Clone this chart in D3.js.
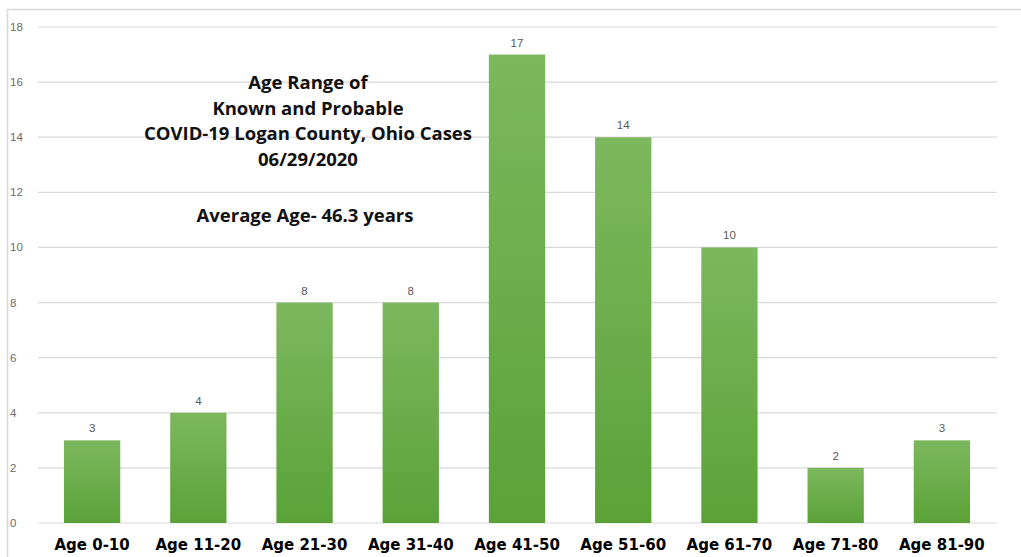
<!DOCTYPE html>
<html>
<head>
<meta charset="utf-8">
<script src="https://cdn.jsdelivr.net/npm/d3@7"></script>
<style>
  body { margin: 0; background: #fff; }
  svg { display: block; }
</style>
</head>
<body>
<div id="chart"></div>
<script>
const categories = ['Age 0-10', 'Age 11-20', 'Age 21-30', 'Age 31-40', 'Age 41-50',
                    'Age 51-60', 'Age 61-70', 'Age 71-80', 'Age 81-90'];
const cases = [3, 4, 8, 8, 17, 14, 10, 2, 3];
const yTicks = [0, 2, 4, 6, 8, 10, 12, 14, 16, 18];
const titleLines = ['Age Range of', 'Known and Probable', 'COVID-19 Logan County, Ohio Cases', '06/29/2020'];
const subtitle = 'Average Age- 46.3 years';

const width = 1021;
const height = 557;

const svg = d3.select('#chart')
    .append('svg')
        .attr('width', width)
        .attr('height', height);

const defs = svg.append('defs');
const grad = defs.append('linearGradient')
    .attr('id', 'barGrad')
    .attr('x1', 0).attr('y1', 0).attr('x2', 0).attr('y2', 1);
grad.append('stop').attr('offset', '0%').attr('stop-color', '#7cb85e');
grad.append('stop').attr('offset', '100%').attr('stop-color', '#5aa238');

// outer frame
svg.append('rect')
    .attr('x', 7.5).attr('y', 9.5)
    .attr('width', 1030).attr('height', 560)
    .attr('fill', 'none')
    .attr('stroke', '#d9d9d9')
    .attr('stroke-width', 1.5);

const x = d3.scaleBand()
    .domain(categories)
    .range([39, 995])
    .paddingInner(0.47)
    .paddingOuter(0.235);

const y = d3.scaleLinear()
    .domain([0, 18])
    .range([523, 27]);

// gridlines
svg.append('g')
    .selectAll('line')
    .data(yTicks)
    .join('line')
        .attr('x1', 38)
        .attr('x2', 997)
        .attr('y1', d => y(d))
        .attr('y2', d => y(d))
        .attr('stroke', '#d9d9d9')
        .attr('stroke-width', 1.2);

// y tick labels
svg.append('g')
    .selectAll('text')
    .data(yTicks)
    .join('text')
        .attr('x', 10)
        .attr('y', d => y(d) + 4)
        .attr('font-family', 'Liberation Sans, Arial, sans-serif')
        .attr('font-size', 11.5)
        .attr('fill', '#6b6b6b')
        .text(d => d);

// bars
svg.append('g')
    .selectAll('rect')
    .data(cases)
    .join('rect')
        .attr('x', (d, i) => x(categories[i]))
        .attr('y', d => y(d))
        .attr('width', x.bandwidth())
        .attr('height', d => y(0) - y(d))
        .attr('fill', 'url(#barGrad)');

// value labels
svg.append('g')
    .selectAll('text')
    .data(cases)
    .join('text')
        .attr('x', (d, i) => x(categories[i]) + x.bandwidth() / 2)
        .attr('y', d => y(d) - 8)
        .attr('text-anchor', 'middle')
        .attr('font-family', 'Liberation Sans, Arial, sans-serif')
        .attr('font-size', 11.5)
        .attr('fill', '#595959')
        .text(d => d);

// x axis labels
svg.append('g')
    .selectAll('text')
    .data(categories)
    .join('text')
        .attr('x', d => x(d) + x.bandwidth() / 2)
        .attr('y', 550)
        .attr('text-anchor', 'middle')
        .attr('font-family', 'DejaVu Sans, sans-serif')
        .attr('font-weight', 'bold')
        .attr('font-size', 15)
        .attr('fill', '#000')
        .text(d => d);

// title block
const title = svg.append('g')
    .attr('font-family', 'Open Sans, sans-serif')
    .attr('font-weight', 'bold')
    .attr('font-size', 18.5)
    .attr('fill', '#111')
    .attr('text-anchor', 'middle');

title.selectAll('text.t')
    .data(titleLines)
    .join('text')
        .attr('class', 't')
        .attr('x', 308)
        .attr('y', (d, i) => 89 + i * 25.5)
        .text(d => d);

title.append('text')
    .attr('x', 305)
    .attr('y', 222)
    .text(subtitle);
</script>
</body>
</html>
